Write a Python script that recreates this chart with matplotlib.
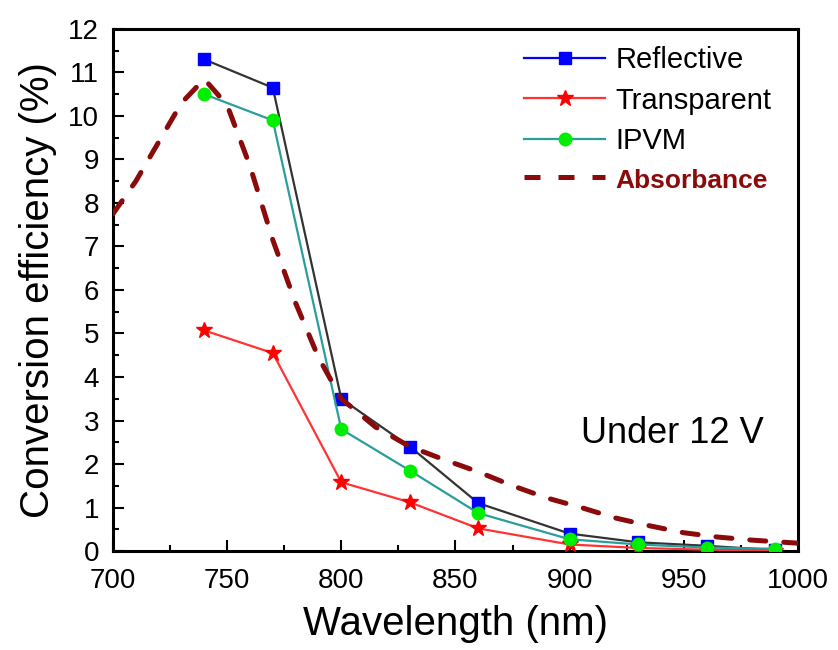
import matplotlib
matplotlib.use('Agg')
import matplotlib.pyplot as plt
from matplotlib.lines import Line2D
from matplotlib.ticker import MultipleLocator

plt.rcParams['font.family'] = ['Liberation Sans', 'DejaVu Sans']

# measured points
wavelength = [740, 770, 800, 830, 860, 900, 930, 960, 990]
reflective = [11.3, 10.65, 3.5, 2.4, 1.1, 0.4, 0.2, 0.12, 0.02]
transparent = [5.07, 4.55, 1.58, 1.12, 0.52, 0.15, 0.07, 0.03, 0.01]
ipvm = [10.5, 9.9, 2.8, 1.85, 0.87, 0.27, 0.15, 0.08, 0.05]

# absorbance curve (scaled)
abs_wl = [700, 710, 720, 730, 740, 750, 760, 770, 780, 790, 800, 815, 830,
          845, 860, 875, 890, 905, 920, 935, 950, 965, 980, 1000]
abs_val = [7.75, 8.5, 9.4, 10.3, 10.85, 10.25, 8.85, 7.15, 5.7, 4.45, 3.5,
           2.85, 2.4, 2.1, 1.82, 1.5, 1.22, 1.0, 0.76, 0.58, 0.42, 0.32,
           0.25, 0.18]

fig = plt.figure(figsize=(8.38, 6.5), dpi=100)
ax = fig.add_axes([0.1348, 0.1523, 0.8174, 0.8031])

ax.plot(wavelength, reflective, color='#333333', lw=1.6, marker='s', ms=8.5,
        mfc='#0000ff', mec='#0000ff', zorder=3)
ax.plot(wavelength, transparent, color='#ff3333', lw=1.6, marker='*', ms=12,
        mfc='#ff0000', mec='#ff0000', zorder=3)
ax.plot(wavelength, ipvm, color='#2a9d9d', lw=1.6, marker='o', ms=9,
        mfc='#00ee00', mec='#00ee00', zorder=3)
ax.plot(abs_wl, abs_val, color='#8b0a0a', lw=3.6, dashes=(3.2, 3.6),
        dash_capstyle='round', zorder=4)

ax.set_xlim(700, 1000)
ax.set_ylim(0, 12)
ax.xaxis.set_major_locator(MultipleLocator(50))
ax.xaxis.set_minor_locator(MultipleLocator(25))
ax.yaxis.set_major_locator(MultipleLocator(1))
ax.yaxis.set_minor_locator(MultipleLocator(0.5))
ax.tick_params(which='both', direction='in', top=False, right=False,
               labelsize=20, width=1.5)
ax.tick_params(which='major', length=8)
ax.tick_params(axis='x', which='major', pad=12)
ax.tick_params(axis='y', which='major', pad=10)
ax.tick_params(which='minor', length=4)
for s in ax.spines.values():
    s.set_linewidth(2.2)

ax.set_xlabel('Wavelength (nm)', fontsize=29, labelpad=8)
ax.set_ylabel('Conversion efficiency (%)', fontsize=29, labelpad=8)

ax.text(0.95, 0.225, 'Under 12 V', transform=ax.transAxes, fontsize=26,
        ha='right', va='center')

handles = [
    Line2D([], [], color='#0000ff', lw=1.6, marker='s', ms=8.5),
    Line2D([], [], color='#ff3333', lw=1.6, marker='*', ms=12,
           mfc='#ff0000', mec='#ff0000'),
    Line2D([], [], color='#2a9d9d', lw=1.6, marker='o', ms=9,
           mfc='#00ee00', mec='#00ee00'),
    Line2D([], [], color='#8b0a0a', lw=3.6, dashes=(3.2, 3.6)),
]
labels = ['Reflective', 'Transparent', 'IPVM', 'Absorbance']
leg = ax.legend(handles, labels, loc='upper right', frameon=False,
                fontsize=21, handlelength=2.8, handletextpad=0.35,
                labelspacing=0.42, bbox_to_anchor=(1.0, 1.017))
txt = leg.get_texts()[3]
txt.set_color('#8b0a0a')
txt.set_fontweight('bold')
txt.set_fontsize(19)

fig.savefig('out.png', dpi=100)
